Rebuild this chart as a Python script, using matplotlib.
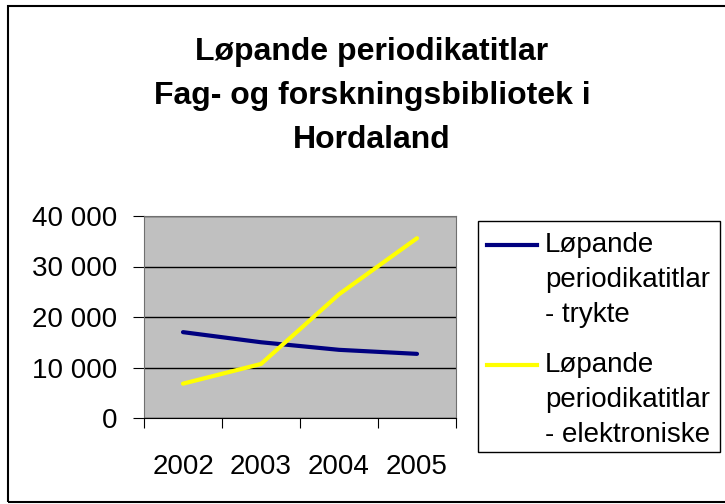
import matplotlib
matplotlib.use("Agg")
from matplotlib import pyplot as plt
from matplotlib.patches import Rectangle
from matplotlib.lines import Line2D
import numpy as np

plt.rcParams['font.family'] = ['Liberation Sans', 'DejaVu Sans']

# data
years = ["2002", "2003", "2004", "2005"]
trykte = [17000, 15000, 13500, 12700]
elektroniske = [6800, 10700, 24500, 35600]
y_ticks = [0, 10000, 20000, 30000, 40000]
y_labels = ["0", "10 000", "20 000", "30 000", "40 000"]
series_names = ["Løpande\nperiodikatitlar\n- trykte", "Løpande\nperiodikatitlar\n- elektroniske"]
series_colors = ["#000080", "#FFFF00"]
title = "Løpande periodikatitlar\nFag- og forskningsbibliotek i\nHordaland"

W, H = 725, 504
fig = plt.figure(figsize=(W / 100, H / 100), dpi=100)


def fx(px):
    return px / W


def fy(py):
    return 1 - py / H


# plot area in pixel coords
left, right, top, bottom = 144, 456, 216, 418
ax = fig.add_axes([fx(left), fy(bottom), fx(right - left), (bottom - top) / H])
ax.set_facecolor("#C0C0C0")

x = np.arange(len(years)) + 0.5
ax.plot(x, trykte, color=series_colors[0], lw=3, solid_capstyle="round")
ax.plot(x, elektroniske, color=series_colors[1], lw=3, solid_capstyle="round")

ax.set_xlim(0, len(years))
ax.set_ylim(0, 40000)
ax.set_yticks(y_ticks)
ax.set_yticklabels(y_labels, fontsize=20)
ax.set_xticks(np.arange(len(years) + 1))
ax.set_xticklabels([])
ax.set_xticks(x, minor=True)
ax.set_xticklabels(years, minor=True, fontsize=20)
ax.tick_params(axis="x", which="minor", length=0, pad=26)
ax.tick_params(axis="x", which="major", length=7, color="black")
ax.tick_params(axis="y", length=8, pad=11)
ax.yaxis.grid(True, color="black", lw=1)
ax.set_axisbelow(True)
for s in ["top", "right", "left"]:
    ax.spines[s].set_color("#707070")
ax.spines["bottom"].set_color("black")

# title
fig.text(fx(372), fy(96), title, ha="center", va="center", fontsize=23,
         fontweight="bold", linespacing=1.6)

# legend box drawn by hand so the marker sits on the first text line
fig.patches.append(Rectangle((fx(478), fy(452)), fx(720 - 478), (452 - 221) / H,
                             transform=fig.transFigure, fill=False, ec="black", lw=1))
for i, (name, col) in enumerate(zip(series_names, series_colors)):
    ty = 232 + i * 120
    fig.lines.append(Line2D([fx(487), fx(537)], [fy(ty + 13), fy(ty + 13)],
                            transform=fig.transFigure, color=col, lw=3))
    fig.text(fx(545), fy(ty), name, ha="left", va="top", fontsize=20, linespacing=1.45)

# outer chart border
fig.patches.append(Rectangle((fx(8), fy(502)), fx(740), 496 / H,
                             transform=fig.transFigure, fill=False, ec="black", lw=1.5))

fig.savefig("out.png", dpi=100)
